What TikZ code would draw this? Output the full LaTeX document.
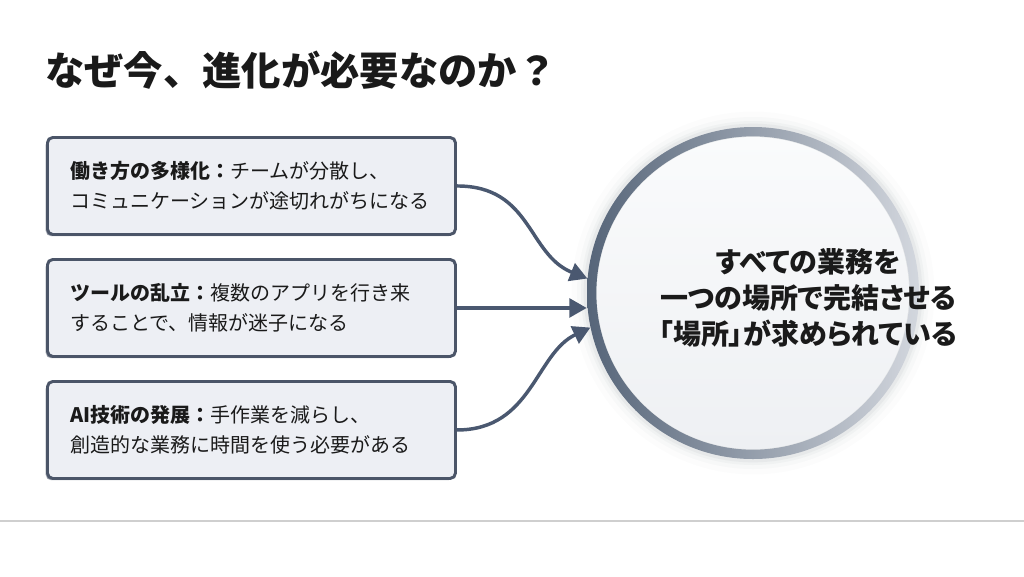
\documentclass[tikz,border=0pt]{standalone}
\usepackage{fontspec}
\setmainfont{Noto Sans CJK JP}
\newfontfamily\jpp[RawFeature=+palt]{Noto Sans CJK JP}
\usetikzlibrary{arrows.meta,shadows}
\definecolor{boxfill}{HTML}{EDEFF4}
\definecolor{boxborder}{HTML}{4B5568}
\definecolor{arrowcol}{HTML}{4A5870}
\definecolor{ringdark}{HTML}{566579}
\definecolor{ringlight}{HTML}{D3D7DE}
\definecolor{txt}{HTML}{1A1A1A}
\definecolor{rulecol}{HTML}{CFCFCF}
\definecolor{hubtop}{HTML}{FAFBFC}
\definecolor{hubbottom}{HTML}{EEF0F3}
\begin{document}
\begin{tikzpicture}[x=0.75pt,y=-0.75pt,
  box/.style={draw=boxborder, line width=2.2pt, fill=boxfill, rounded corners=4pt,
    minimum width=306pt, minimum height=72.75pt, inner xsep=17pt, text width=272pt,
    align=left, font=\fontsize{15}{22.5}\selectfont, text=txt, anchor=north west,
    drop shadow={shadow xshift=-1.3pt, shadow yshift=-1.3pt, opacity=0.55, fill=boxborder}},
  conn/.style={draw=arrowcol, line width=2.6pt, -{Triangle[length=13pt,width=14pt]}},
  title/.style={anchor=west, font=\fontsize{29.5}{34}\selectfont\bfseries, text=txt, inner sep=0},
  hubtxt/.style={align=center, font=\jpp\fontsize{21}{27}\selectfont\bfseries, text=txt},
]
\useasboundingbox (0,0) rectangle (1024,576);
\fill[white] (0,0) rectangle (1024,576);

% title
\node[title] (title) at (45,70) {なぜ今、進化が必要なのか？};

% bottom rule
\coordinate (ruleL) at (0,521);
\coordinate (ruleR) at (1024,521);
\draw[rulecol, line width=1.2pt] (ruleL) -- (ruleR);

% boxes
\node[box] (b1) at (46,136) {\textbf{働き方の多様化：}チームが分散し、\\コミュニケーションが途切れがちになる};
\node[box] (b2) at (46,258) {\textbf{ツールの乱立：}複数のアプリを行き来\\することで、情報が迷子になる};
\node[box] (b3) at (46,380) {\textbf{AI技術の発展：}手作業を減らし、\\創造的な業務に時間を使う必要がある};

% hub circle
\node[circle, minimum size=249pt, inner sep=0] (hub) at (753,293) {};
\foreach \r/\o in {136/0.015,132/0.025,129/0.035,127/0.05} {
  \fill[boxborder, opacity=\o] (hub.center) circle (\r pt);
}
\shade[top color=hubtop, bottom color=hubbottom] (hub.center) circle (117pt);
\shade[even odd rule, left color=ringdark, middle color=ringdark, right color=ringlight]
  (hub.center) circle (124.5pt) (hub.center) circle (117.5pt);
\node[hubtxt] (hubtext) at (808,298) {すべての業務を\\一つの場所で完結させる\\「場所」が求められている};

% connectors
\draw[conn] (b1.east) .. controls +(75,0) and +(-60,-24) .. (hub.175);
\draw[conn] (b2.east) -- (b2.east -| hub.west);
\draw[conn] (b3.east) .. controls +(75,0) and +(-55,26) .. (hub.192);
\end{tikzpicture}
\end{document}
